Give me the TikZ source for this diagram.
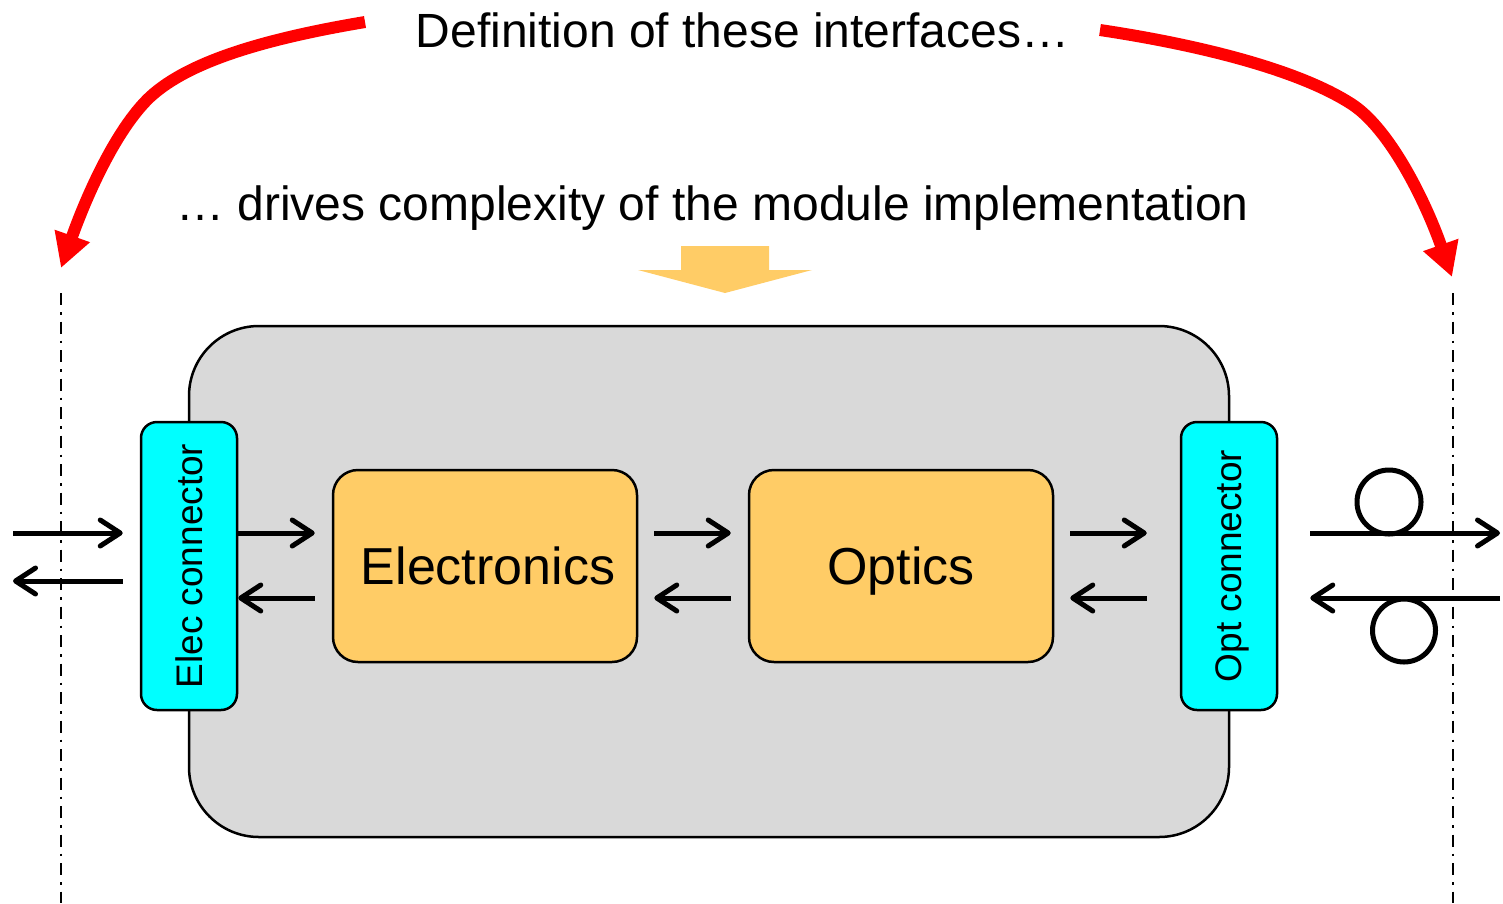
\documentclass[tikz,border=0pt]{standalone}
\usepackage{fontspec}
\setmainfont{Liberation Sans}
\usetikzlibrary{arrows.meta,positioning}
\definecolor{boxyellow}{RGB}{255,204,102}
\definecolor{modgray}{RGB}{217,217,217}
\definecolor{conncyan}{RGB}{0,255,255}

\begin{document}
\begin{tikzpicture}[x=1pt,y=-1pt,
    blok/.style={draw,line width=2.5pt,fill=boxyellow,rounded corners=25pt,minimum width=304pt,minimum height=192pt,text depth=0pt,font=\fontsize{52}{60}\selectfont},
    conn/.style={draw,line width=2.5pt,fill=conncyan,rounded corners=16pt,minimum width=288pt,minimum height=96pt,rotate=90,text depth=0pt,font=\fontsize{37}{44}\selectfont},
    sig/.style={line width=5pt,-{Straight Barb[length=20pt,width=26pt,round]}},
    redarr/.style={red,line width=12pt,-{Triangle[length=34pt,width=35pt]}},
    border/.style={line width=2.5pt,dash pattern=on 12pt off 7pt on 2.5pt off 7pt},
    loop/.style={draw,circle,line width=5pt,minimum size=64pt,inner sep=0pt}]
  \useasboundingbox (0,0) rectangle (1503,903);

  % the module
  \node[draw,line width=2.5pt,fill=modgray,rounded corners=70pt,minimum width=1040pt,minimum height=511pt] (module) at (709,581.5) {};
  \node[conn] (elecconn) at (189,566) {Elec connector};
  \node[conn] (optconn) at (1229,566) {Opt connector};
  \node[blok] (electronics) at (485,566) {\hspace*{6pt}Electronics};
  \node[blok] (optics) at (901,566) {Optics};

  % signals (rotated connectors: south is their right side, north their left side)
  \coordinate (lin) at (13,533);
  \coordinate (lout) at (13,581);
  \coordinate (rout) at (1500,533);
  \coordinate (rin) at (1500,598);
  \draw[sig] (lin) -- ([yshift=33pt,xshift=-17pt]elecconn.north);
  \draw[sig] ([yshift=-15pt,xshift=-17pt]elecconn.north) -- (lout);
  \draw[sig] ([yshift=33pt]elecconn.south) -- ([yshift=33pt,xshift=-17pt]electronics.west);
  \draw[sig] ([yshift=-32pt,xshift=-17pt]electronics.west) -- ([yshift=-32pt]elecconn.south);
  \draw[sig] ([yshift=33pt,xshift=16pt]electronics.east) -- ([yshift=33pt,xshift=-17pt]optics.west);
  \draw[sig] ([yshift=-32pt,xshift=-17pt]optics.west) -- ([yshift=-32pt,xshift=16pt]electronics.east);
  \draw[sig] ([yshift=33pt,xshift=16pt]optics.east) -- ([yshift=33pt,xshift=-33pt]optconn.north);
  \draw[sig] ([yshift=-32pt,xshift=-33pt]optconn.north) -- ([yshift=-32pt,xshift=16pt]optics.east);
  \draw[sig] ([yshift=33pt,xshift=32pt]optconn.south) -- (rout);
  \draw[sig] (rin) -- ([yshift=-32pt,xshift=32pt]optconn.south);

  % fibre loops
  \node[loop] (loopa) at (1389,502) {};
  \node[loop,minimum size=63pt] (loopb) at (1404,630.5) {};

  % interface planes
  \coordinate (ltop) at (61,293);
  \coordinate (lbot) at (61,903);
  \coordinate (rtop) at (1453,293);
  \coordinate (rbot) at (1453,903);
  \draw[border] (ltop) -- (lbot);
  \draw[border] (rtop) -- (rbot);

  % texts
  \node[anchor=base,font=\fontsize{48}{56}\selectfont] (title) at (742.5,47) {Definition of these interfaces…};
  \node[anchor=base,font=\fontsize{48}{56}\selectfont] (subtitle) at (712.5,220) {… drives complexity of the module implementation};

  \coordinate (lstart) at (365,22);
  \coordinate (ltip) at (61,268);
  \coordinate (rstart) at (1100,30);
  \coordinate (rtip) at (1452,277);
  \draw[redarr] (lstart) .. controls (270,38) and (190,60) .. (150,97) .. controls (115,130) and (85,200) .. (ltip);
  \draw[redarr] (rstart) .. controls (1200,45) and (1300,70) .. (1353,105) .. controls (1390,130) and (1425,200) .. (rtip);

  \fill[boxyellow] (681,246) -- (769,246) -- (769,270) -- (812,270) -- (725,293) -- (638,270) -- (681,270) -- cycle;
\end{tikzpicture}
\end{document}
